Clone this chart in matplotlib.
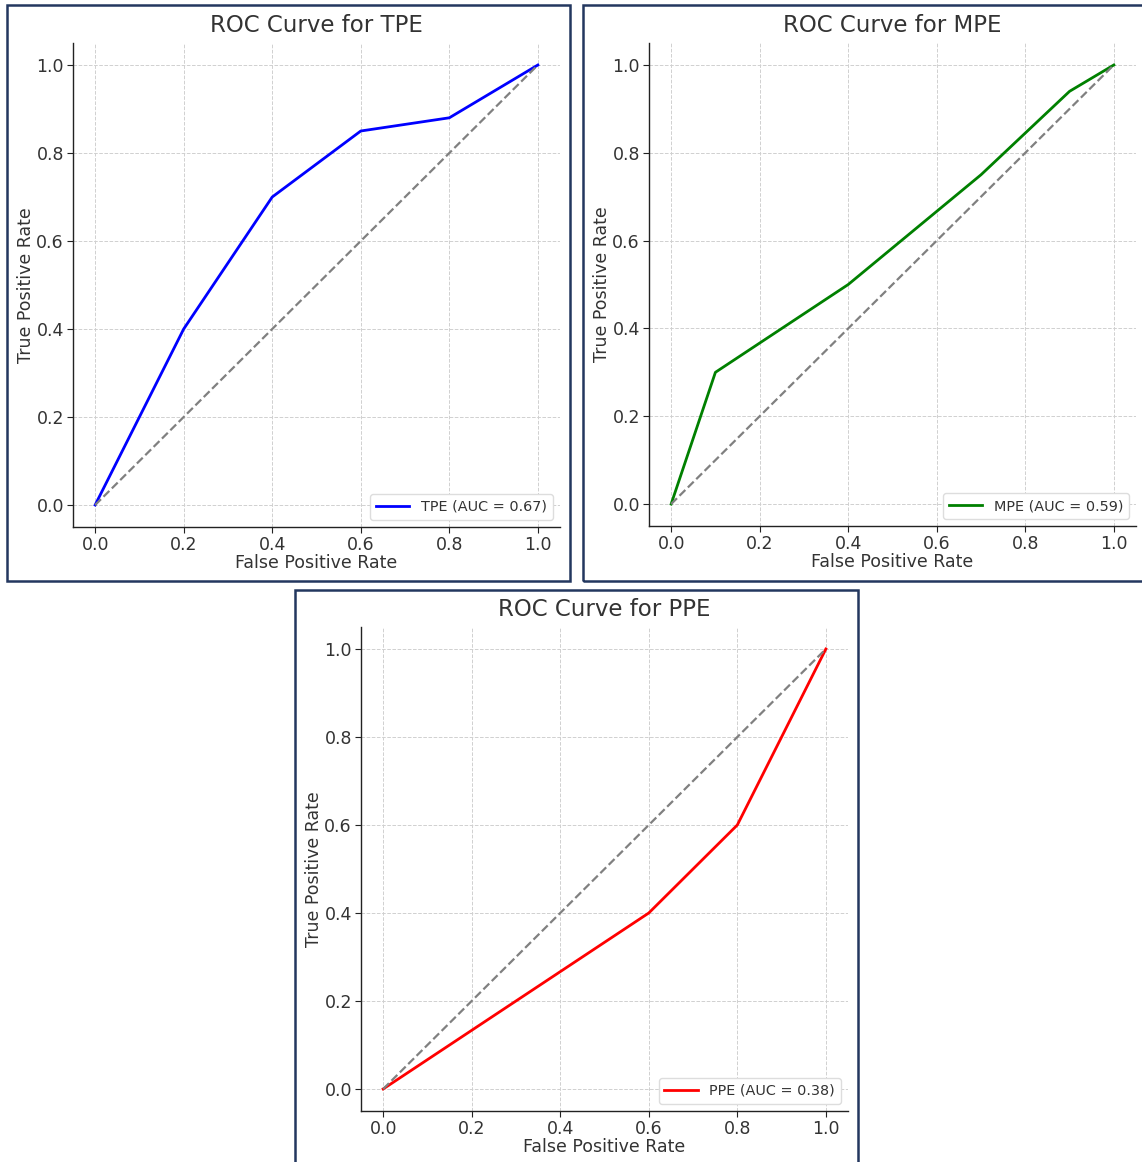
import matplotlib.pyplot as plt
from matplotlib.patches import Rectangle

W, H = 1142, 1162

# data
tpe_fpr = [0.0, 0.2, 0.4, 0.6, 0.8, 1.0]
tpe_tpr = [0.0, 0.4, 0.7, 0.85, 0.88, 1.0]
mpe_fpr = [0.0, 0.1, 0.4, 0.7, 0.9, 1.0]
mpe_tpr = [0.0, 0.3, 0.5, 0.75, 0.94, 1.0]
ppe_fpr = [0.0, 0.6, 0.8, 1.0]
ppe_tpr = [0.0, 0.4, 0.6, 1.0]

names = ["TPE", "MPE", "PPE"]
aucs = [0.67, 0.59, 0.38]
colors = ["blue", "green", "red"]
ticks = [0.0, 0.2, 0.4, 0.6, 0.8, 1.0]

TEXT = "#333333"

# pixel boxes: (border x0, y0, x1, y1), (axes left, top, right, bottom)
panels = [
    ((7, 5, 570, 581), (73, 43, 560, 527)),
    ((583, 5, 1145, 581), (649, 43, 1136, 526)),
    ((295, 590, 858, 1166), (361, 627, 848, 1111)),
]


def px_rect(x0, y0, x1, y1):
    return [x0 / W, 1 - y1 / H, (x1 - x0) / W, (y1 - y0) / H]


fig = plt.figure(figsize=(W / 100, H / 100), dpi=100)

curves = [(tpe_fpr, tpe_tpr), (mpe_fpr, mpe_tpr), (ppe_fpr, ppe_tpr)]

for (border, box), name, auc, col, (fpr, tpr) in zip(panels, names, aucs, colors, curves):
    bx0, by0, bx1, by1 = border
    fig.patches.append(Rectangle((bx0 / W, 1 - by1 / H), (bx1 - bx0) / W, (by1 - by0) / H,
                                 transform=fig.transFigure, fill=False,
                                 edgecolor="#23375f", linewidth=1.8, zorder=10))
    ax = fig.add_axes(px_rect(*box))
    ax.plot(fpr, tpr, color=col, lw=2, label=f"{name} (AUC = {auc:.2f})")
    ax.plot([0, 1], [0, 1], color="gray", lw=1.6, linestyle="--")
    ax.set_xlim(-0.05, 1.05)
    ax.set_ylim(-0.05, 1.05)
    ax.set_xticks(ticks)
    ax.set_yticks(ticks)
    ax.grid(True, color="#d0d0d0", linestyle="--", linewidth=0.7)
    ax.set_axisbelow(True)
    for s in ["top", "right"]:
        ax.spines[s].set_visible(False)
    for s in ["left", "bottom"]:
        ax.spines[s].set_color("#222222")
        ax.spines[s].set_linewidth(1.0)
    ax.tick_params(labelsize=12.5, colors="#222222", labelcolor=TEXT, length=4, pad=2.5)
    ax.set_title(f"ROC Curve for {name}", fontsize=16.5, color=TEXT, pad=8)
    ax.set_xlabel("False Positive Rate", fontsize=12.5, color=TEXT, labelpad=0)
    ax.set_ylabel("True Positive Rate", fontsize=12.5, color=TEXT, labelpad=1)
    leg = ax.legend(loc="lower right", fontsize=10.4, handlelength=2.3, framealpha=1,
                    edgecolor="#dddddd", borderaxespad=0.5)
    for t in leg.get_texts():
        t.set_color(TEXT)

fig.savefig("out.png", dpi=100)
